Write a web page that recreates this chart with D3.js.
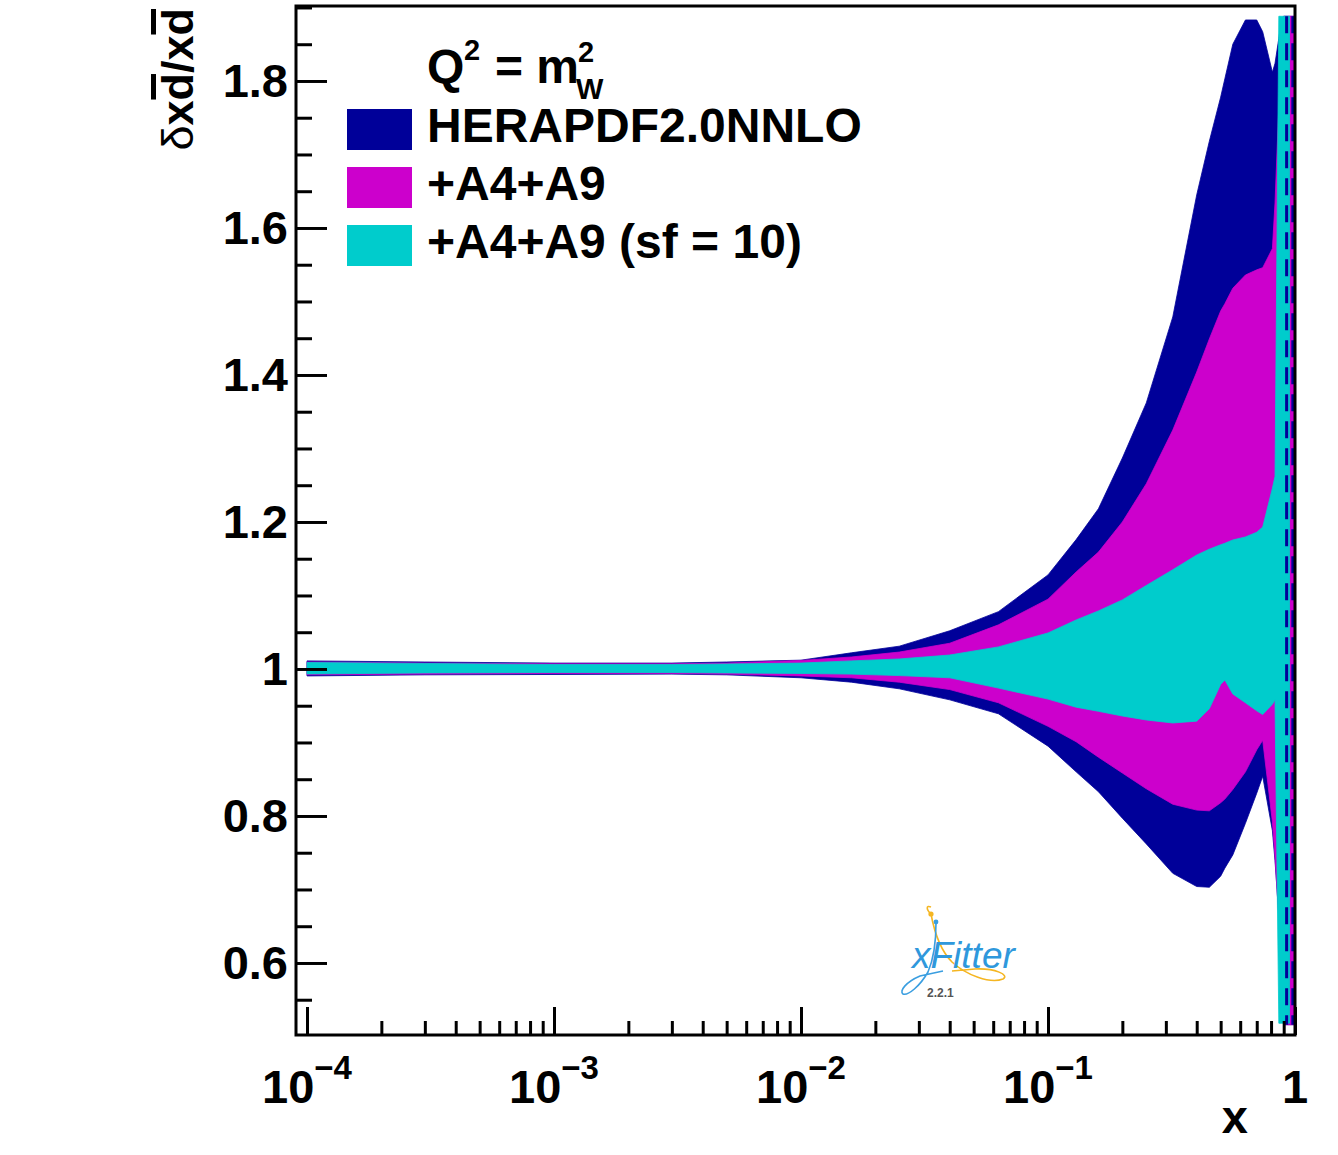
<!DOCTYPE html>
<html>
<head>
<meta charset="utf-8">
<script src="https://cdn.jsdelivr.net/npm/d3@7"></script>
<style>
  body { margin: 0; background: #ffffff; }
  svg { display: block; }
</style>
</head>
<body>
<svg id="chart" width="1338" height="1155"></svg>
<script>
// Relative uncertainty of the d-bar PDF at Q^2 = m_W^2, three fits.
const xValues = [0.0001, 0.0003, 0.001, 0.003, 0.005, 0.01, 0.016, 0.025, 0.04, 0.063,
  0.1, 0.13, 0.16, 0.2, 0.25, 0.32, 0.4, 0.45, 0.5, 0.52, 0.56, 0.63, 0.7, 0.74,
  0.81, 0.83, 0.86, 0.88, 0.9, 0.93, 0.95, 1.0];

// HERAPDF2.0NNLO band
const heraUp = [1.011, 1.0095, 1.008, 1.008, 1.0095, 1.012, 1.022, 1.031, 1.052, 1.078,
  1.128, 1.176, 1.218, 1.287, 1.362, 1.479, 1.645, 1.718, 1.778, 1.803, 1.850, 1.883, 1.883, 1.867,
  1.812, 1.824, 1.858, 1.883, 1.888, 1.888, 1.888, 1.888];
const heraDn = [0.9905, 0.992, 0.9925, 0.993, 0.992, 0.988, 0.982, 0.973, 0.958, 0.939,
  0.895, 0.860, 0.833, 0.797, 0.762, 0.722, 0.704, 0.703, 0.718, 0.729, 0.747, 0.790, 0.831, 0.854,
  0.780, 0.739, 0.664, 0.592, 0.516, 0.516, 0.516, 0.516];

// +A4+A9 band
const a4a9Up = [1.0095, 1.008, 1.007, 1.007, 1.008, 1.0116, 1.0163, 1.023, 1.035, 1.060,
  1.095, 1.132, 1.159, 1.200, 1.252, 1.325, 1.404, 1.449, 1.487, 1.497, 1.518, 1.536, 1.543, 1.546,
  1.572, 1.634, 1.766, 1.853, 1.888, 1.888, 1.888, 1.888];
const a4a9Dn = [0.992, 0.993, 0.994, 0.994, 0.993, 0.9905, 0.988, 0.982, 0.972, 0.954,
  0.922, 0.901, 0.880, 0.8585, 0.837, 0.816, 0.808, 0.807, 0.818, 0.823, 0.836, 0.860, 0.890, 0.903,
  0.792, 0.745, 0.660, 0.580, 0.516, 0.516, 0.516, 0.516];

// +A4+A9 (sf = 10) band
const sf10Up = [1.0088, 1.0075, 1.006, 1.006, 1.0068, 1.008, 1.011, 1.0136, 1.019, 1.030,
  1.049, 1.0667, 1.079, 1.094, 1.1136, 1.135, 1.155, 1.163, 1.169, 1.171, 1.1755, 1.1796, 1.186, 1.193,
  1.246, 1.262, 1.888, 1.888, 1.888, 1.888, 1.888, null];
const sf10Dn = [0.9932, 0.9946, 0.9952, 0.9952, 0.9946, 0.9939, 0.993, 0.991, 0.988, 0.974,
  0.959, 0.948, 0.9424, 0.936, 0.9306, 0.9265, 0.929, 0.946, 0.979, 0.985, 0.966, 0.954, 0.943, 0.938,
  0.952, 0.958, 0.518, 0.518, 0.518, 0.518, 0.518, null];

// dashed band edges close to x = 1
const edgeLineX = [0.925, 0.98];
const edgeLineLo = [0.516, 0.516];
const edgeLineHi = [1.888, 1.888];

const legendLabels = ["HERAPDF2.0NNLO", "+A4+A9", "+A4+A9 (sf = 10)"];
const bandColors = ["#000099", "#cc00cc", "#00cccc"];

const yMajorTicks = [0.6, 0.8, 1.0, 1.2, 1.4, 1.6, 1.8];
const yTickLabels = ["0.6", "0.8", "1", "1.2", "1.4", "1.6", "1.8"];
const xDecades = [1e-4, 1e-3, 1e-2, 1e-1, 1];
const xDecadeBase = ["10", "10", "10", "10", "1"];
const xDecadeExp = ["\u22124", "\u22123", "\u22122", "\u22121", ""];

const FONT = "'Liberation Sans', Arial, Helvetica, sans-serif";

const svg = d3.select("#chart");
const frame = { left: 296, right: 1295, top: 6, bottom: 1035 };

const xScale = d3.scaleLog()
  .domain([Math.pow(10, -4 - 11 / 247), 1])
  .range([frame.left, frame.right]);
const yScale = d3.scaleLinear()
  .domain([0.502, 1.902])
  .range([frame.bottom, frame.top]);

svg.append("defs").append("clipPath").attr("id", "plotClip")
  .append("rect")
  .attr("x", frame.left).attr("y", frame.top)
  .attr("width", frame.right - frame.left).attr("height", frame.bottom - frame.top);

const plot = svg.append("g").attr("clip-path", "url(#plotClip)");

const bands = [
  { up: heraUp, dn: heraDn },
  { up: a4a9Up, dn: a4a9Dn },
  { up: sf10Up, dn: sf10Dn }
];

bands.forEach((b, i) => {
  const rows = xValues.map((x, j) => ({ x, lo: b.dn[j], hi: b.up[j] }));
  const area = d3.area()
    .defined(d => d.lo != null && d.hi != null)
    .x(d => xScale(d.x))
    .y0(d => yScale(d.lo))
    .y1(d => yScale(d.hi));
  plot.append("path")
    .datum(rows)
    .attr("d", area)
    .attr("fill", bandColors[i])
    .attr("stroke", bandColors[i])
    .attr("stroke-width", 0.8);
});

plot.selectAll("line.edge")
  .data(edgeLineX)
  .join("line")
  .attr("class", "edge")
  .attr("x1", d => xScale(d)).attr("x2", d => xScale(d))
  .attr("y1", (d, i) => yScale(edgeLineHi[i]))
  .attr("y2", (d, i) => yScale(edgeLineLo[i]))
  .attr("stroke", "#000099")
  .attr("stroke-width", 3)
  .attr("stroke-dasharray", "17,10");

// ---- axes ----
const yMinorTicks = d3.range(0.55, 1.9001, 0.05)
  .map(v => Math.round(v * 100) / 100)
  .filter(v => !yMajorTicks.some(m => Math.abs(m - v) < 1e-6));

const yAxisMajor = d3.axisLeft(yScale)
  .tickValues(yMajorTicks)
  .tickSize(-31)
  .tickPadding(8)
  .tickFormat((d, i) => yTickLabels[i]);
const yAxisMinor = d3.axisLeft(yScale)
  .tickValues(yMinorTicks)
  .tickSize(-16)
  .tickFormat("");

const gy = svg.append("g").attr("transform", `translate(${frame.left},0)`);
gy.call(yAxisMajor);
gy.append("g").call(yAxisMinor);
gy.selectAll(".domain").remove();
gy.selectAll("line").attr("stroke", "#000").attr("stroke-width", 3);
gy.selectAll("text")
  .attr("font-family", FONT)
  .attr("font-weight", "bold")
  .attr("font-size", 47)
  .attr("fill", "#000");

const xMinorTicks = [];
xDecades.slice(0, 4).forEach(d => { for (let k = 2; k <= 9; k++) xMinorTicks.push(k * d); });

const xAxisMajor = d3.axisBottom(xScale).tickValues(xDecades).tickSize(-28).tickFormat("");
const xAxisMinor = d3.axisBottom(xScale).tickValues(xMinorTicks).tickSize(-14).tickFormat("");
const gx = svg.append("g").attr("transform", `translate(0,${frame.bottom})`);
gx.call(xAxisMajor);
gx.append("g").call(xAxisMinor);
gx.selectAll(".domain").remove();
gx.selectAll("line").attr("stroke", "#000").attr("stroke-width", 3);

// decade labels with superscript exponents
xDecades.forEach((d, i) => {
  const t = svg.append("text")
    .attr("x", xScale(d))
    .attr("y", 1103)
    .attr("text-anchor", "middle")
    .attr("font-family", FONT)
    .attr("font-weight", "bold")
    .attr("font-size", 47)
    .attr("fill", "#000");
  t.append("tspan").text(xDecadeBase[i]);
  if (xDecadeExp[i]) {
    t.append("tspan").attr("dy", -24).attr("font-size", 33).text(xDecadeExp[i]);
  }
});

// frame
svg.append("rect")
  .attr("x", frame.left).attr("y", frame.top)
  .attr("width", frame.right - frame.left).attr("height", frame.bottom - frame.top)
  .attr("fill", "none").attr("stroke", "#000").attr("stroke-width", 3);

// axis titles
svg.append("text")
  .attr("x", 1248).attr("y", 1133)
  .attr("text-anchor", "end")
  .attr("font-family", FONT).attr("font-weight", "bold").attr("font-size", 47)
  .text("x");

const yTitleG = svg.append("g").attr("transform", "translate(193,8) rotate(-90)");
const yTitle = yTitleG.append("text")
  .attr("x", 0).attr("y", 0)
  .attr("text-anchor", "end")
  .attr("font-family", FONT).attr("font-size", 45).attr("fill", "#000");
yTitle.append("tspan").attr("font-weight", "normal").text("\u03B4");
yTitle.append("tspan").attr("font-weight", "bold").text("xd/xd");
// bars over the two d's
[2, 5].forEach(ci => {
  const ext = yTitle.node().getExtentOfChar(ci);
  yTitleG.append("rect")
    .attr("x", ext.x + 1).attr("y", -42)
    .attr("width", ext.width - 2).attr("height", 5)
    .attr("fill", "#000");
});

// ---- legend ----
const legend = svg.append("g");
const lt = legend.append("text")
  .attr("font-family", FONT).attr("font-weight", "bold").attr("font-size", 48).attr("fill", "#000");
lt.append("tspan").attr("x", 427).attr("y", 83).text("Q");
lt.append("tspan").attr("x", 464).attr("y", 60).attr("font-size", 29).text("2");
lt.append("tspan").attr("x", 495).attr("y", 83).text("= m");
lt.append("tspan").attr("x", 578).attr("y", 62).attr("font-size", 29).text("2");
lt.append("tspan").attr("x", 576).attr("y", 99).attr("font-size", 29).text("W");

const legendBaselines = [142, 200, 258];
legendLabels.forEach((lab, i) => {
  legend.append("rect")
    .attr("x", 347).attr("y", legendBaselines[i] - 33)
    .attr("width", 65).attr("height", 41)
    .attr("fill", bandColors[i]);
  legend.append("text")
    .attr("x", 427).attr("y", legendBaselines[i])
    .attr("font-family", FONT).attr("font-weight", "bold").attr("font-size", 48)
    .attr("fill", "#000")
    .text(lab);
});

// ---- xFitter emblem ----
const logo = svg.append("g");
logo.append("path")
  .attr("d", "M931,914 C934,930 940,950 952,962 C966,975 990,984 1003,979 C1010,975 995,968 975,969 L952,971")
  .attr("fill", "none").attr("stroke", "#f5b622").attr("stroke-width", 1.6);
logo.append("path")
  .attr("d", "M931,914 C926,909 926,905 931,907")
  .attr("fill", "none").attr("stroke", "#f5b622").attr("stroke-width", 1.6);
logo.append("circle").attr("cx", 931).attr("cy", 914).attr("r", 2.6).attr("fill", "#f5b622");
logo.append("path")
  .attr("d", "M936,923 C936,940 934,958 928,972 C920,986 908,996 903,994 C899,991 906,982 920,976 L943,971")
  .attr("fill", "none").attr("stroke", "#3a9ee0").attr("stroke-width", 1.6);
logo.append("circle").attr("cx", 936).attr("cy", 922).attr("r", 2.4).attr("fill", "#3a9ee0");
logo.append("text")
  .attr("x", 912).attr("y", 968)
  .attr("font-family", FONT).attr("font-style", "italic").attr("font-size", 37)
  .attr("fill", "#2f98dc")
  .text("xFitter");
logo.append("text")
  .attr("x", 927).attr("y", 997)
  .attr("font-family", FONT).attr("font-weight", "bold").attr("font-size", 12)
  .attr("fill", "#555")
  .text("2.2.1");
</script>
</body>
</html>
